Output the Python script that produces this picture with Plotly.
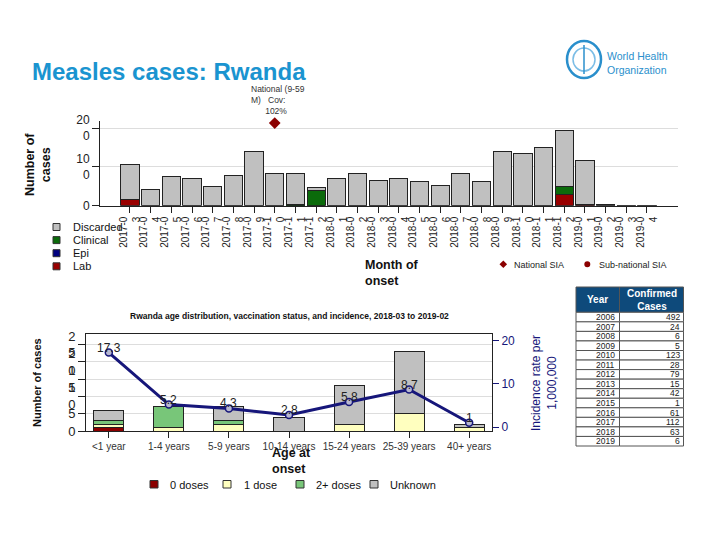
import plotly.graph_objects as go

# ---------------- data: monthly cases ----------------
months = ["2017-03", "2017-04", "2017-05", "2017-06", "2017-07", "2017-08", "2017-09",
          "2017-10", "2017-11", "2017-12", "2018-01", "2018-02", "2018-03", "2018-04",
          "2018-05", "2018-06", "2018-07", "2018-08", "2018-09", "2018-10", "2018-11",
          "2018-12", "2019-01", "2019-02", "2019-03", "2019-04"]
lab =       [17, 0, 0, 0, 0, 0, 0, 0, 0, 0, 0, 0, 0, 0, 0, 0, 0, 0, 0, 0, 0, 30, 3, 0, 0, 0]
epi =       [0] * 26
clinical =  [0, 0, 0, 0, 0, 0, 0, 0, 2, 40, 0, 0, 0, 0, 0, 0, 0, 0, 0, 0, 0, 19, 0, 0, 0, 0]
discarded = [89, 42, 76, 70, 49, 77, 139, 84, 82, 7, 70, 84, 64, 71, 63, 52, 82, 63, 139, 135, 149, 146, 114, 3, 1, 1]
national_sia_month = ["2017-10"]
national_sia_level = [213]
national_sia_text = "National (9-59<br>M)&nbsp;&nbsp;&nbsp;Cov:<br>&nbsp;&nbsp;&nbsp;&nbsp;&nbsp;&nbsp;102%"

# ---------------- data: age distribution ----------------
age_groups = ["<1 year", "1-4 years", "5-9 years", "10-14 years", "15-24 years", "25-39 years", "40+ years"]
dose0 = [1, 0, 0, 0, 0, 0, 0]
dose1 = [1, 1, 2, 0, 2, 5, 1]
dose2plus = [1, 6, 1, 0, 0, 0, 0]
unknown = [3, 0, 4, 4, 11, 18, 1]
incidence = [17.3, 5.2, 4.3, 2.8, 5.8, 8.7, 1]
incidence_labels = ["17.3", "5.2", "4.3", "2.8", "5.8", "8.7", "1"]

# ---------------- data: table ----------------
years = ["2006", "2007", "2008", "2009", "2010", "2011", "2012", "2013", "2014", "2015", "2016", "2017", "2018", "2019"]
confirmed = [492, 24, 6, 5, 123, 28, 79, 15, 42, 1, 61, 112, 63, 6]

FONT = "Liberation Sans, Arial, sans-serif"
W, H = 720, 540
PAGE_OFF = 8  # the page body adds an 8px offset around the figure
def px(v): return (v - PAGE_OFF) / W
def py(v): return 1 - (v - PAGE_OFF) / H

month_idx = list(range(len(months)))
month_ticks = [m[:6] + "<br>" + m[6:] for m in months]

TOP_COLORS = {"Lab": "#990000", "Epi": "#000080", "Clinical": "#0b6b0b", "Discarded": "#c0c0c0"}
AGE_COLORS = {"0 doses": "#8b0000", "1 dose": "#ffffbf", "2+ doses": "#78c679", "Unknown": "#c0c0c0"}
SIA_COLOR = "#8b0000"
NAVY = "#16167a"

fig = go.Figure()
outline = dict(color="#222222", width=1)

# top stacked bars (bottom to top)
for name, vals in [("Lab", lab), ("Epi", epi), ("Clinical", clinical), ("Discarded", discarded)]:
    fig.add_trace(go.Bar(x=month_idx, y=vals, name=name,
                         marker=dict(color=TOP_COLORS[name], line=outline),
                         width=0.88, xaxis="x", yaxis="y", showlegend=False))

sia_x = [months.index(m) for m in national_sia_month]
fig.add_trace(go.Scatter(x=sia_x, y=national_sia_level, mode="markers", name="National SIA",
                         marker=dict(symbol="diamond", color=SIA_COLOR, size=9),
                         cliponaxis=False, xaxis="x", yaxis="y", showlegend=False))

# bottom stacked bars
for name, vals in [("0 doses", dose0), ("1 dose", dose1), ("2+ doses", dose2plus), ("Unknown", unknown)]:
    fig.add_trace(go.Bar(x=age_groups, y=vals, name=name,
                         marker=dict(color=AGE_COLORS[name], line=outline),
                         width=0.5, xaxis="x2", yaxis="y2", showlegend=False))

fig.add_trace(go.Scatter(x=age_groups, y=incidence, mode="lines+markers", name="Incidence",
                         line=dict(color=NAVY, width=3),
                         marker=dict(symbol="circle", color="#b8b8d0", size=7,
                                     line=dict(width=1.5, color=NAVY)),
                         showlegend=False, cliponaxis=False, xaxis="x2", yaxis="y3"))

ytop_ticks = [0, 100, 200]
ybot_ticks = [0, 5, 10, 15, 20, 25]
yinc_ticks = [0, 10, 20]

fig.update_layout(
    width=W, height=H, margin=dict(l=0, r=0, t=0, b=0, autoexpand=False),
    paper_bgcolor="white", plot_bgcolor="white",
    font=dict(family=FONT, color="#222222"),
    barmode="stack", showlegend=False,
    xaxis=dict(domain=[px(100), px(678)], range=[-1.45, 26.5],
               tickvals=month_idx, ticktext=month_ticks, tickangle=-90,
               tickfont=dict(size=10), ticks="outside", ticklen=6, tickcolor="#222",
               showline=True, linecolor="#222", showgrid=False, zeroline=False, anchor="y"),
    yaxis=dict(domain=[py(205.7), py(121.1)], range=[0, 218],
               tickvals=ytop_ticks, ticktext=["0", "10<br>0", "20<br>0"],
               tickfont=dict(size=12), ticks="outside", ticklen=7, tickcolor="#222",
               showline=True, linecolor="#222", showgrid=True, gridcolor="#dddddd",
               zeroline=False, anchor="x"),
    xaxis2=dict(domain=[px(86), px(492)], range=[-0.38, 6.38], type="category",
                tickfont=dict(size=10, color="#333"), ticks="outside", ticklen=6, tickcolor="#222",
                showline=True, linecolor="#222", mirror=True, showgrid=False, anchor="y2"),
    yaxis2=dict(domain=[py(431), py(334)], range=[0, 28],
                tickvals=ybot_ticks, ticktext=[("<br>".join(str(t)) if t >= 10 else str(t)) for t in ybot_ticks],
                tickfont=dict(size=13), ticks="outside", ticklen=7, tickcolor="#222",
                showline=True, linecolor="#222", mirror=True, showgrid=True, gridcolor="#dddddd",
                zeroline=False, anchor="x2"),
    yaxis3=dict(overlaying="y2", side="right", range=[-0.93, 21.6], tickvals=yinc_ticks,
                tickfont=dict(size=12, color=NAVY), ticks="outside", ticklen=6, tickcolor=NAVY,
                showgrid=False, zeroline=False, showline=False, anchor="x2"),
)

def note(text, x, y, size, color="#111", xanchor="center", yanchor="middle", align="center", angle=0, **kw):
    d = dict(text=text, x=px(x), y=py(y), xref="paper", yref="paper", xanchor=xanchor,
             yanchor=yanchor, align=align, textangle=angle, showarrow=False,
             font=dict(size=size, color=color))
    d.update(kw)
    return d

annotations = [
    note("<b>Measles cases: Rwanda</b>", 30, 71, 24, "#1a94d0", xanchor="left"),
    note("World Health<br>Organization", 605, 63, 10.5, "#2a8fcc", xanchor="left", align="left"),
    dict(text=national_sia_text, x=sia_x[0], y=national_sia_level[0], xref="x", yref="y",
         xshift=-26, yshift=5, xanchor="left", yanchor="bottom", showarrow=False, align="left",
         font=dict(size=8.5, color="#333")),
    note("<b>Number of<br>cases</b>", 38, 165, 12.5, angle=-90),
    note("<b>Month of<br>onset</b>", 363, 256, 12.5, xanchor="left", yanchor="top", align="left"),
    note("<b>Rwanda age distribution, vaccination status, and incidence, 2018-03 to 2019-02</b>",
         289, 316, 8.5),
    note("<b>Number of cases</b>", 37, 383, 11, angle=-90),
    note("Incidence rate per<br>1,000,000", 544, 383, 12, NAVY, angle=-90),
    note("<b>Age at<br>onset</b>", 270, 444, 12.5, xanchor="left", yanchor="top", align="left"),
]

# incidence value labels, placed at each data point
for g, v, lbl in zip(age_groups, incidence, incidence_labels):
    annotations.append(dict(text=lbl, x=g, y=v, xref="x2", yref="y3", yshift=5,
                            xanchor="center", yanchor="middle", showarrow=False,
                            font=dict(size=12, color="#222")))

shapes = []
def box(x0, x1, y0, y1, fill, lc="#333", lw=1):
    return dict(type="rect", xref="paper", yref="paper", x0=px(x0), x1=px(x1),
                y0=py(y1), y1=py(y0), fillcolor=fill, line=dict(color=lc, width=lw))

# top-left legend
for i, name in enumerate(["Discarded", "Clinical", "Epi", "Lab"]):
    yc = 227 + i * 13.1
    shapes.append(box(53, 60, yc - 3.5, yc + 3.5, TOP_COLORS[name]))
    annotations.append(note(name, 71, yc, 11, xanchor="left"))

# bottom legend
for name, sx, tx in [("0 doses", 150, 168), ("1 dose", 223, 242), ("2+ doses", 296, 314), ("Unknown", 370, 388)]:
    shapes.append(box(sx, sx + 8, 480.5, 488, AGE_COLORS[name]))
    annotations.append(note(name, tx, 484.5, 11, xanchor="left"))

# SIA legend
dx, dy, r = 503.3, 264.3, 3.8
shapes.append(dict(type="path", xref="paper", yref="paper",
                   path=f"M {px(dx)},{py(dy - r)} L {px(dx + r)},{py(dy)} L {px(dx)},{py(dy + r)} L {px(dx - r)},{py(dy)} Z",
                   fillcolor=SIA_COLOR, line=dict(color=SIA_COLOR, width=0)))
annotations.append(note("National SIA", 512, 264.5, 9, "#222", xanchor="left"))
shapes.append(dict(type="circle", xref="paper", yref="paper", x0=px(584.3), x1=px(590.3),
                   y0=py(267.3), y1=py(261.3), fillcolor=SIA_COLOR, line=dict(color=SIA_COLOR, width=0)))
annotations.append(note("Sub-national SIA", 597, 264.5, 9, "#222", xanchor="left"))

# table of confirmed cases per year
TX0, TX1, TX2 = 576, 619.5, 683.5
TH0, TH1 = 287, 312.3
ROW_H = 9.55
shapes.append(box(TX0, TX2, TH0, TH1, "#0e4a7b", "#555"))
shapes.append(dict(type="line", xref="paper", yref="paper", x0=px(TX1), x1=px(TX1),
                   y0=py(TH1), y1=py(TH0), line=dict(color="#555", width=1)))
annotations.append(note("<b>Year</b>", (TX0 + TX1) / 2, (TH0 + TH1) / 2, 10, "white"))
annotations.append(note("<b>Confirmed<br>Cases</b>", (TX1 + TX2) / 2, (TH0 + TH1) / 2, 10, "white"))
for i, (yr, c) in enumerate(zip(years, confirmed)):
    r0 = TH1 + i * ROW_H
    r1 = r0 + ROW_H
    shapes.append(box(TX0, TX1, r0, r1, "white", "#555"))
    shapes.append(box(TX1, TX2, r0, r1, "white", "#555"))
    annotations.append(note(yr, TX1 - 3, (r0 + r1) / 2, 8.5, "#222", xanchor="right"))
    annotations.append(note(str(c), TX2 - 2, (r0 + r1) / 2, 8.5, "#222", xanchor="right"))

# WHO emblem (simplified)
shapes.append(dict(type="circle", xref="paper", yref="paper", x0=px(567), x1=px(601),
                   y0=py(78), y1=py(41), line=dict(color="#2a8fcc", width=2.5)))
shapes.append(dict(type="circle", xref="paper", yref="paper", x0=px(573), x1=px(595),
                   y0=py(71), y1=py(48), line=dict(color="#7bbde6", width=1.5)))
shapes.append(dict(type="line", xref="paper", yref="paper", x0=px(584), x1=px(584),
                   y0=py(74), y1=py(45), line=dict(color="#2a8fcc", width=1.5)))

fig.update_layout(annotations=annotations, shapes=shapes)
fig.write_html("out.html")
